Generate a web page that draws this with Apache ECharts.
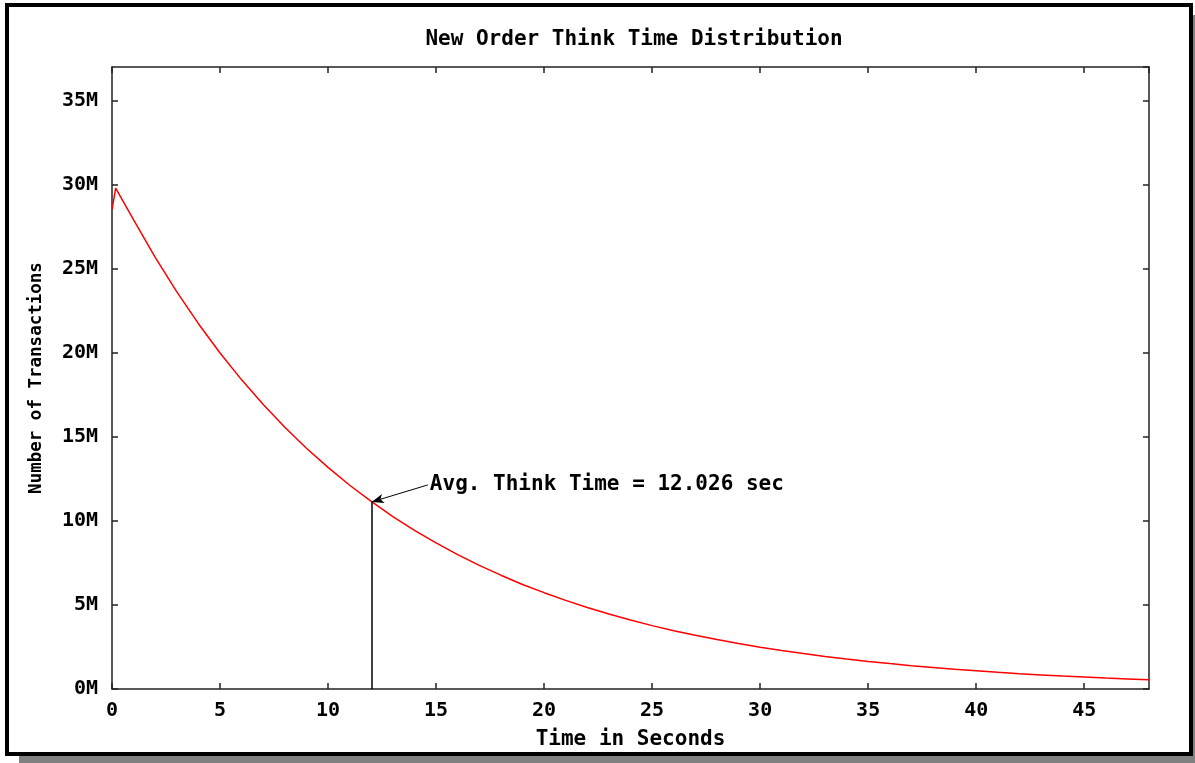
<!DOCTYPE html>
<html>
<head>
<meta charset="utf-8">
<title>New Order Think Time Distribution</title>
<script src="https://cdn.jsdelivr.net/npm/echarts@6/dist/echarts.min.js"></script>
<style>
  html, body { margin: 0; padding: 0; background: #fff; }
  #chart { width: 1195px; height: 763px; }
</style>
</head>
<body>
<div id="chart"></div>
<script>
// seconds and transaction counts (in millions)
var times = [0, 0.17, 1, 2, 3, 4, 5, 6, 7, 8, 9, 10, 11, 12, 13, 14, 15, 16, 17, 18, 19, 20,
  21, 22, 23, 24, 25, 26, 27, 28, 29, 30, 31, 32, 33, 34, 35, 36, 37, 38, 39, 40,
  41, 42, 43, 44, 45, 46, 47, 48];
var counts = [28.5, 29.8, 27.9, 25.67, 23.62, 21.73, 19.99, 18.39, 16.92, 15.57, 14.32, 13.18,
  12.12, 11.16, 10.26, 9.44, 8.69, 7.99, 7.35, 6.77, 6.22, 5.73, 5.27, 4.85, 4.46, 4.1,
  3.77, 3.47, 3.2, 2.94, 2.7, 2.49, 2.29, 2.11, 1.94, 1.78, 1.64, 1.51, 1.39, 1.28, 1.17,
  1.08, 0.99, 0.91, 0.84, 0.77, 0.71, 0.65, 0.6, 0.55];

// average marker: vertical drop line and arrow from the label
var avgTime = 12.026;
var avgCount = 11.13;
var labelPos = [14.62, 12.14];
var avgLabel = "Avg. Think Time = 12.026 sec";

var xTicks = [0, 48, 5];   // min, max, interval
var yTicks = [0, 37, 5];

var FONT = "DejaVu Sans Mono";
var AXIS_COLOR = "#222";

var lineData = times.map(function (t, i) { return [t, counts[i]]; });

var chart = echarts.init(document.getElementById("chart"), null, { renderer: "canvas" });

function mirrorAxis(pos, range) {
  return {
    type: "value",
    position: pos,
    min: range[0],
    max: range[1],
    interval: range[2],
    axisLine: { show: true, onZero: false, lineStyle: { color: AXIS_COLOR, width: 1.5 } },
    axisTick: { show: true, inside: true, length: 6, lineStyle: { color: AXIS_COLOR, width: 1.5 } },
    axisLabel: { show: false },
    splitLine: { show: false }
  };
}

chart.setOption({
  animation: false,
  backgroundColor: "#fff",
  graphic: [
    // drop shadow
    { type: "rect", z: -10, shape: { x: 19, y: 15, width: 1200, height: 760 }, style: { fill: "#808080" } },
    // frame
    { type: "rect", z: -9, shape: { x: 7, y: 5, width: 1184, height: 749 },
      style: { fill: "#fff", stroke: "#000", lineWidth: 4 } }
  ],
  title: {
    text: "New Order Think Time Distribution",
    left: 629,
    textAlign: "center",
    top: 24,
    textStyle: { fontFamily: FONT, fontWeight: "bold", fontSize: 21, color: "#000" }
  },
  grid: { left: 112, right: 46, top: 67, bottom: 74 },
  xAxis: [
    {
      type: "value",
      min: xTicks[0],
      max: xTicks[1],
      interval: xTicks[2],
      name: "Time in Seconds",
      nameLocation: "middle",
      nameGap: 40,
      nameTextStyle: { fontFamily: FONT, fontWeight: "bold", fontSize: 21, color: "#000" },
      axisLine: { show: true, onZero: false, lineStyle: { color: AXIS_COLOR, width: 1.5 } },
      axisTick: { show: true, inside: true, length: 6, lineStyle: { color: AXIS_COLOR, width: 1.5 } },
      axisLabel: {
        margin: 12,
        showMaxLabel: false,
        fontFamily: FONT, fontWeight: "bold", fontSize: 20, color: "#000",
        formatter: function (v) { return v % 5 === 0 ? String(v) : ""; }
      },
      splitLine: { show: false }
    },
    mirrorAxis("top", xTicks)
  ],
  yAxis: [
    {
      type: "value",
      min: yTicks[0],
      max: yTicks[1],
      interval: yTicks[2],
      name: "Number of Transactions",
      nameLocation: "middle",
      nameGap: 67,
      nameTextStyle: { fontFamily: FONT, fontWeight: "bold", fontSize: 17.5, color: "#000" },
      axisLine: { show: true, onZero: false, lineStyle: { color: AXIS_COLOR, width: 1.5 } },
      axisTick: { show: true, inside: true, length: 6, lineStyle: { color: AXIS_COLOR, width: 1.5 } },
      axisLabel: {
        margin: 14,
        showMaxLabel: false,
        fontFamily: FONT, fontWeight: "bold", fontSize: 20, color: "#000",
        formatter: function (v) { return v % 5 === 0 ? v + "M" : ""; }
      },
      splitLine: { show: false }
    },
    mirrorAxis("right", yTicks)
  ],
  series: [
    {
      name: "Think Time",
      type: "line",
      data: lineData,
      showSymbol: false,
      symbol: "none",
      lineStyle: { color: "#ff0000", width: 1.5 },
      z: 3,
      markLine: {
        silent: true,
        symbol: "none",
        label: { show: false },
        lineStyle: { color: "#000", type: "solid", width: 1.5 },
        data: [
          [{ coord: [avgTime, 0] }, { coord: [avgTime, avgCount] }],
          [
            { coord: labelPos, symbol: "none", lineStyle: { width: 1 } },
            { coord: [avgTime, avgCount], symbol: "arrow", symbolSize: [7, 12] }
          ]
        ]
      }
    },
    {
      name: "label",
      type: "scatter",
      data: [labelPos],
      symbolSize: 0,
      silent: true,
      itemStyle: { opacity: 1 },
      label: {
        show: true,
        position: "right",
        distance: 2,
        formatter: avgLabel,
        fontFamily: FONT, fontWeight: "bold", fontSize: 21, color: "#000"
      }
    }
  ]
});
</script>
</body>
</html>
